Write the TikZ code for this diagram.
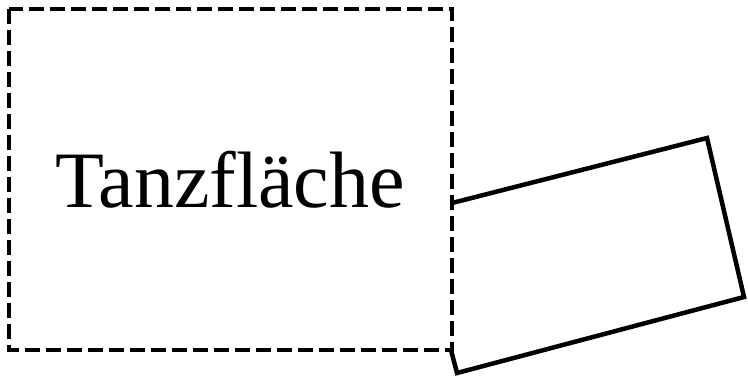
\documentclass[tikz,border=0pt]{standalone}
\usepackage{fontspec}
\setmainfont{Liberation Serif}
\begin{document}
\begin{tikzpicture}[x=1pt,y=-1pt,
  zone/.style={draw=black,line width=4.5pt,dash pattern=on 15pt off 6pt},
  stage/.style={draw=black,line width=4.5pt,line join=miter},
  lbl/.style={font=\fontsize{80}{92}\selectfont,inner sep=0pt}]
\useasboundingbox (0,0) rectangle (748,378);
\draw[zone] (9,9) rectangle (452,350);
\node[lbl,anchor=base] (t) at (230,207) {Tanzfläche};
\coordinate (a) at (452,203);
\coordinate (b) at (707,138);
\coordinate (c) at (744,297);
\coordinate (d) at (457,373);
\coordinate (e) at (451,350);
\draw[stage] (a) -- (b) -- (c) -- (d) -- (e);
\end{tikzpicture}
\end{document}
